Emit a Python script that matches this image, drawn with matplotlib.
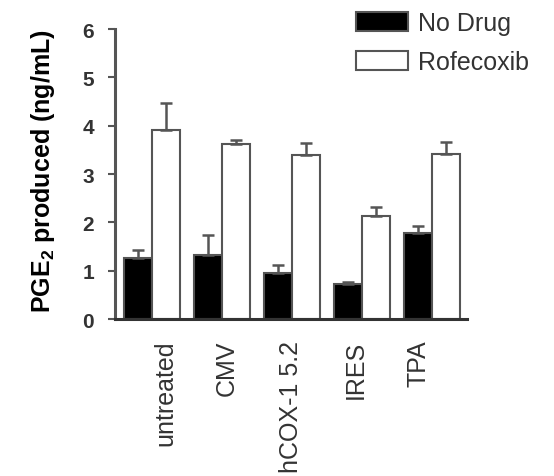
import numpy as np
import matplotlib
matplotlib.use("Agg")
import matplotlib.pyplot as plt

plt.rcParams["font.family"] = ["Liberation Sans", "DejaVu Sans"]
plt.rcParams["mathtext.fontset"] = "custom"
plt.rcParams["mathtext.rm"] = "Liberation Sans"
plt.rcParams["mathtext.bf"] = "Liberation Sans:bold"

# ── Data ─────────────────────────────────────────────────────────────────────
groups = ["untreated", "CMV", "hCOX-1 5.2", "IRES", "TPA"]
no_drug = [1.26, 1.32, 0.95, 0.72, 1.77]
no_drug_err = [0.17, 0.42, 0.17, 0.04, 0.16]
rofecoxib = [3.92, 3.62, 3.39, 2.14, 3.41]
rofecoxib_err = [0.54, 0.08, 0.25, 0.18, 0.25]

# tick labels sit a bit off the group centres in the original
label_pos = [0.19, 1.07, 1.99, 2.91, 3.80]

EDGE = "#555555"
TEXT = "#333333"

fig = plt.figure(figsize=(5.54, 4.77), dpi=100)
ax = fig.add_axes([0.2076, 0.3291, 0.6354, 0.608])

x = np.arange(len(groups))
w = 0.39
err_kw = dict(ecolor=EDGE, elinewidth=1.8, capsize=4.5, capthick=1.8)

ax.bar(x - 0.2, no_drug, w, color="black", edgecolor=EDGE, linewidth=1.5,
       yerr=[np.zeros(len(groups)), no_drug_err], error_kw=err_kw, label="No Drug")
ax.bar(x + 0.2, rofecoxib, w, color="white", edgecolor=EDGE, linewidth=1.5,
       yerr=[np.zeros(len(groups)), rofecoxib_err], error_kw=err_kw, label="Rofecoxib")

ax.set_xlim(-0.53, 4.5)
ax.set_ylim(0, 6)
ax.set_yticks(range(7))
ax.set_yticklabels([str(v) for v in range(7)], fontsize=15, fontweight="bold", color=TEXT)
ax.tick_params(axis="y", direction="out", length=5, width=1.5, color=EDGE, pad=10)

ax.set_xticks(label_pos)
ax.set_xticklabels(groups, rotation=90, fontsize=18, color=TEXT, va="top", ha="center")
ax.tick_params(axis="x", length=0, pad=15)

for s in ["top", "right"]:
    ax.spines[s].set_visible(False)
ax.spines["left"].set_color(EDGE)
ax.spines["left"].set_linewidth(2.2)
ax.spines["bottom"].set_color("#333333")
ax.spines["bottom"].set_linewidth(2.2)

ax.set_ylabel(r"PGE$_\mathbf{2}$ produced (ng/mL)", fontsize=18, fontweight="bold", color="black")
ax.yaxis.set_label_coords(-0.165, 0.515)

fig.legend(loc="upper left", bbox_to_anchor=(0.642, 0.974), frameon=False,
           fontsize=18, handlelength=2.1, handleheight=0.76, handletextpad=0.4,
           labelspacing=0.6, borderpad=0, borderaxespad=0, labelcolor=TEXT)

fig.savefig("out.png", dpi=100)
